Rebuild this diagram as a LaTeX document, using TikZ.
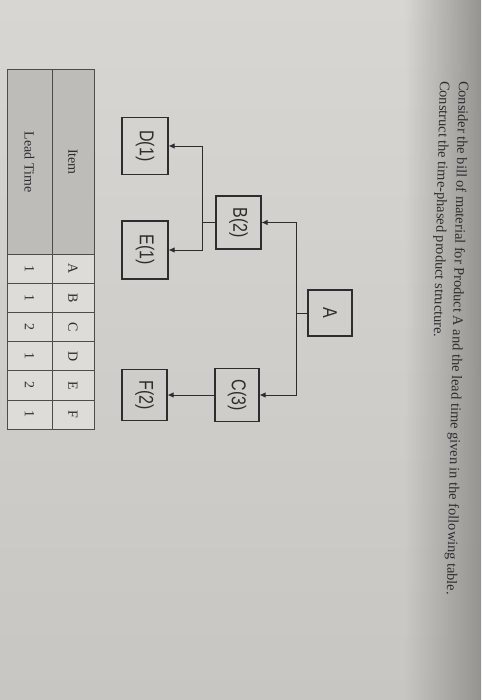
\documentclass[tikz,border=0pt]{standalone}
\usepackage{fontspec}
\setmainfont{Liberation Serif}
\newfontfamily\boxfont[FakeStretch=0.8]{Liberation Sans}
\usetikzlibrary{arrows.meta,fadings}

\definecolor{paper}{RGB}{216,214,210}
\definecolor{paperlow}{RGB}{200,198,195}
\definecolor{paperedge}{RGB}{150,148,145}
\definecolor{headgray}{RGB}{190,188,184}
\definecolor{cellgray}{RGB}{222,220,216}
\definecolor{ink}{RGB}{45,45,45}
\tikzfading[name=edgefade,left color=transparent!100,right color=transparent!0]

\begin{document}
\begin{tikzpicture}[x=1pt,y=1pt,
  part/.style={draw=ink,line width=1.1pt,inner sep=0pt,text=ink,
    font=\boxfont\fontsize{20}{20}\selectfont},
  link/.style={draw=ink,line width=0.9pt},
  tip/.style={link,-{Latex[length=6pt,width=5.5pt]}},
  cell/.style={inner sep=0pt,text=ink,font=\fontsize{14}{14}\selectfont}]
% photo background
\shade[top color=paper,bottom color=paperlow] (0,0) rectangle (481,-700);
\fill[paperedge,path fading=edgefade] (405,0) rectangle (481,-700);
\useasboundingbox (0,0) rectangle (481,-700);
\begin{scope}[rotate=-90,transform shape]
% question text
\node[anchor=base west,inner sep=0pt,rotate=-1.35,text=ink,font=\fontsize{14.4}{14.4}\selectfont] (q1) at (81,459)
  {Consider the bill of material for Product A and the lead time given in the following table.};
\node[anchor=base west,inner sep=0pt,rotate=-1.35,text=ink,font=\fontsize{14.4}{14.4}\selectfont] (q2) at (81,440)
  {Construct the time-phased product structure.};
% product structure
\node[part,minimum width=46pt,minimum height=44pt] (A) at (313,330) {A};
\node[part,minimum width=53pt,minimum height=45pt] (B) at (222.5,238.5) {B(2)};
\node[part,minimum width=53pt,minimum height=44pt] (C) at (395,237) {C(3)};
\node[part,minimum width=57pt,minimum height=46pt] (D) at (146,145) {D(1)};
\node[part,minimum width=58pt,minimum height=46pt] (E) at (250,145) {E(1)};
\node[part,minimum width=51pt,minimum height=45pt] (F) at (395,144.5) {F(2)};
\draw[link] (A.south) -- ++(0,-11) coordinate (a1);
\draw[tip] (a1) -| (B);
\draw[tip] (a1) -| (C);
\draw[link] (B.south) -- ++(0,-13) coordinate (b1);
\draw[tip] (b1) -| (D);
\draw[tip] (b1) -| (E);
\draw[tip] (C) -- (F);
% lead time table
\fill[headgray] (69,7) rectangle (254,94);
\fill[cellgray] (254,7) rectangle (429,94);
\draw[ink!85,line width=0.6pt] (69,7) rectangle (429,94);
\draw[ink!85,line width=0.6pt] (69,52) -- (429,52);
\foreach \i in {0,...,5}
  \draw[ink!85,line width=0.6pt] (254+\i*29.17,7) -- ++(0,87);
\node[cell] (item) at (162,73) {Item};
\node[cell] (lead) at (162,29.5) {Lead Time};
\foreach \n/\t [count=\i from 0] in {A/1,B/1,C/2,D/1,E/2,F/1}{
  \node[cell] (it\n) at (268.6+\i*29.17,73) {\n};
  \node[cell] (lt\n) at (268.6+\i*29.17,29.5) {\t};
}
\end{scope}
\end{tikzpicture}
\end{document}
